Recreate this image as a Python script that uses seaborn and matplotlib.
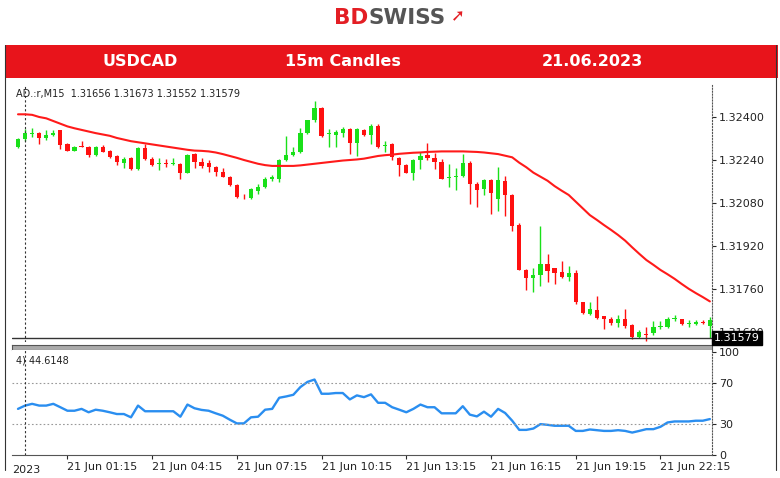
import numpy as np
import pandas as pd
import matplotlib
matplotlib.use("Agg")
import matplotlib.pyplot as plt
import seaborn as sns

opens = [1.32288,1.32317,1.32337,1.32342,1.32320,1.32332,1.32350,1.32300,1.32275,1.32292,
         1.32290,1.32259,1.32290,1.32275,1.32255,1.32230,1.32247,1.32206,1.32284,1.32243,
         1.32224,1.32227,1.32225,1.32225,1.32193,1.32262,1.32233,1.32228,1.32213,1.32197,
         1.32178,1.32148,1.32104,1.32098,1.32126,1.32138,1.32168,1.32168,1.32240,1.32259,
         1.32268,1.32340,1.32387,1.32433,1.32337,1.32333,1.32340,1.32354,1.32305,1.32352,
         1.32333,1.32367,1.32291,1.32300,1.32247,1.32222,1.32193,1.32240,1.32259,1.32247,
         1.32234,1.32172,1.32176,1.32179,1.32230,1.32151,1.32131,1.32166,1.32095,1.32163,
         1.32110,1.31999,1.31831,1.31800,1.31813,1.31853,1.31837,1.31825,1.31806,1.31821,
         1.31710,1.31666,1.31682,1.31658,1.31649,1.31633,1.31648,1.31627,1.31583,1.31592,
         1.31595,1.31617,1.31620,1.31649,1.31648,1.31631,1.31629,1.31639,1.31624]
closes = [1.32317,1.32342,1.32342,1.32320,1.32332,1.32342,1.32296,1.32275,1.32290,1.32290,
          1.32258,1.32290,1.32271,1.32253,1.32234,1.32243,1.32206,1.32284,1.32243,1.32222,
          1.32227,1.32224,1.32228,1.32193,1.32259,1.32233,1.32218,1.32213,1.32197,1.32178,
          1.32146,1.32101,1.32101,1.32131,1.32138,1.32168,1.32176,1.32240,1.32259,1.32268,
          1.32340,1.32387,1.32433,1.32330,1.32340,1.32346,1.32354,1.32305,1.32354,1.32333,
          1.32367,1.32290,1.32294,1.32253,1.32222,1.32193,1.32240,1.32255,1.32247,1.32234,
          1.32170,1.32176,1.32181,1.32230,1.32151,1.32129,1.32166,1.32116,1.32166,1.32108,
          1.31993,1.31831,1.31800,1.31813,1.31853,1.31828,1.31821,1.31806,1.31818,1.31710,
          1.31670,1.31685,1.31654,1.31648,1.31633,1.31648,1.31623,1.31583,1.31602,1.31588,
          1.31620,1.31622,1.31648,1.31651,1.31630,1.31634,1.31639,1.31633,1.31643]
highs = [1.32320,1.32355,1.32360,1.32345,1.32350,1.32350,1.32352,1.32302,1.32292,1.32310,
         1.32292,1.32292,1.32294,1.32277,1.32258,1.32252,1.32250,1.32290,1.32300,1.32250,
         1.32248,1.32245,1.32248,1.32228,1.32262,1.32265,1.32248,1.32240,1.32216,1.32210,
         1.32180,1.32152,1.32112,1.32135,1.32150,1.32175,1.32185,1.32245,1.32330,1.32290,
         1.32360,1.32390,1.32461,1.32436,1.32355,1.32350,1.32362,1.32358,1.32358,1.32355,
         1.32375,1.32375,1.32310,1.32302,1.32250,1.32225,1.32245,1.32270,1.32305,1.32265,
         1.32245,1.32224,1.32210,1.32262,1.32235,1.32160,1.32170,1.32170,1.32213,1.32180,
         1.32112,1.32005,1.31835,1.31840,1.31993,1.31890,1.31840,1.31865,1.31845,1.31830,
         1.31712,1.31712,1.31735,1.31660,1.31655,1.31665,1.31685,1.31630,1.31608,1.31620,
         1.31640,1.31640,1.31655,1.31665,1.31650,1.31645,1.31645,1.31645,1.31655]
lows = [1.32285,1.32312,1.32325,1.32300,1.32315,1.32328,1.32280,1.32272,1.32272,1.32288,
        1.32250,1.32255,1.32268,1.32248,1.32222,1.32212,1.32204,1.32204,1.32240,1.32218,
        1.32204,1.32215,1.32220,1.32170,1.32190,1.32212,1.32212,1.32195,1.32180,1.32175,
        1.32142,1.32098,1.32095,1.32095,1.32112,1.32135,1.32162,1.32160,1.32235,1.32255,
        1.32265,1.32335,1.32380,1.32326,1.32290,1.32290,1.32325,1.32262,1.32255,1.32330,
        1.32300,1.32285,1.32270,1.32240,1.32180,1.32190,1.32165,1.32205,1.32240,1.32205,
        1.32168,1.32140,1.32130,1.32175,1.32075,1.32065,1.32110,1.32040,1.32050,1.32030,
        1.31975,1.31830,1.31755,1.31750,1.31770,1.31785,1.31780,1.31800,1.31790,1.31705,
        1.31668,1.31663,1.31650,1.31610,1.31625,1.31620,1.31615,1.31575,1.31578,1.31565,
        1.31590,1.31612,1.31615,1.31640,1.31628,1.31620,1.31625,1.31630,1.31579]
ma = [1.32410,1.32410,1.32408,1.32400,1.32395,1.32385,1.32375,1.32365,1.32358,1.32352,
      1.32346,1.32340,1.32335,1.32330,1.32322,1.32316,1.32310,1.32306,1.32302,1.32298,
      1.32294,1.32290,1.32286,1.32282,1.32278,1.32275,1.32274,1.32272,1.32268,1.32262,
      1.32255,1.32248,1.32240,1.32233,1.32226,1.32221,1.32218,1.32218,1.32218,1.32218,
      1.32220,1.32223,1.32226,1.32229,1.32232,1.32235,1.32238,1.32240,1.32242,1.32245,
      1.32250,1.32255,1.32258,1.32260,1.32263,1.32265,1.32267,1.32268,1.32270,1.32271,
      1.32272,1.32272,1.32272,1.32272,1.32271,1.32270,1.32268,1.32265,1.32262,1.32256,
      1.32250,1.32230,1.32213,1.32193,1.32178,1.32163,1.32143,1.32126,1.32110,1.32085,
      1.32060,1.32035,1.32017,1.31998,1.31980,1.31961,1.31940,1.31915,1.31891,1.31868,
      1.31850,1.31831,1.31815,1.31798,1.31779,1.31761,1.31745,1.31730,1.31714]
rsi = [44.8,48.0,49.7,48.0,48.0,49.7,46.4,43.0,43.0,44.8,
       41.5,44.0,43.0,41.5,39.8,39.8,36.6,48.0,42.5,42.5,
       42.5,42.5,42.5,37.2,49.0,45.4,43.8,43.0,40.5,38.2,
       34.3,30.7,30.7,36.6,37.2,44.0,44.8,55.6,56.9,58.5,
       66.0,71.0,73.3,59.5,59.5,60.2,60.2,54.0,57.9,56.2,
       58.9,50.7,50.7,46.4,44.0,41.5,44.8,49.0,46.4,46.4,
       40.5,40.5,40.5,47.4,39.2,37.5,42.1,37.2,44.8,40.8,
       33.3,24.4,24.4,25.7,30.0,29.3,28.4,28.4,28.4,23.4,
       23.4,24.8,24.1,23.4,23.4,24.1,23.4,21.8,23.4,25.1,
       25.1,27.4,31.6,32.6,32.6,32.6,33.3,33.3,34.9]
price_ticks = [1.32400,1.32240,1.32080,1.31920,1.31760,1.31600]
time_labels = ["21 Jun 01:15","21 Jun 04:15","21 Jun 07:15","21 Jun 10:15",
               "21 Jun 13:15","21 Jun 16:15","21 Jun 19:15","21 Jun 22:15"]
time_label_idx = [7,19,31,43,55,67,79,91]

df = pd.DataFrame({"i": np.arange(len(opens)), "o": opens, "c": closes,
                   "h": highs, "l": lows, "ma": ma, "rsi": rsi})

sns.set_style("white")
plt.rcParams['font.family'] = ['DejaVu Sans']
fig = plt.figure(figsize=(7.8, 4.78), dpi=100)
W, H = 780, 478
def fa(l, t, r, b):
    return [l/W, 1-b/H, (r-l)/W, (b-t)/H]

# header
fig.text(0.428, 1-18/H, "BD", color="#e31e24", fontsize=15.5, fontweight="bold", ha="left", va="center")
fig.text(0.473, 1-18/H, "SWISS", color="#555555", fontsize=15.5, fontweight="bold", ha="left", va="center")
fig.text(0.578, 1-16/H, "➚", color="#e31e24", fontsize=12, ha="left", va="center")
bar = fig.add_axes(fa(5, 45, 778, 78))
bar.set_facecolor("#e8141b"); bar.set_xticks([]); bar.set_yticks([])
for s in bar.spines.values(): s.set_visible(False)
for x, t in [(140, "USDCAD"), (343, "15m Candles"), (592, "21.06.2023")]:
    bar.text((x - 5)/773, 0.5, t, transform=bar.transAxes, color="white",
             fontsize=11.5, fontweight="bold", ha="center", va="center")

XL = (-0.85, 98.3)
ax = fig.add_axes(fa(12, 85, 712, 342))
green, red = "#19e019", "#ff1010"
up = df[df.c >= df.o]; dn = df[df.c < df.o]
for d, col in [(up, green), (dn, red)]:
    ax.vlines(d.i, d.l, d.h, color=col, lw=1, zorder=2)
    ax.bar(d.i, (d.c - d.o).abs().clip(lower=0.000025), bottom=np.minimum(d.o, d.c),
           width=0.6, color=col, zorder=3, linewidth=0)
sns.lineplot(data=df, x="i", y="ma", ax=ax, color="#ff1a1a", lw=1.5, zorder=4)
ax.set_xlim(*XL); ax.set_ylim(1.31563, 1.32519)
ax.axhline(1.31579, color="#333333", lw=1, zorder=5)
ax.yaxis.tick_right()
ax.set_yticks(price_ticks)
ax.set_yticklabels([f"{v:.5f}" for v in price_ticks], fontsize=8, color="#222222")
ax.tick_params(axis="y", length=3, pad=2, right=True)
ax.set_xticks([]); ax.set_xlabel(""); ax.set_ylabel("")
for s in ["top", "left", "bottom"]: ax.spines[s].set_visible(False)
ax.spines["right"].set_linestyle(":"); ax.spines["right"].set_color("#555")
ax.axvline(1, color="#333", ls=(0, (2, 2)), lw=0.8)
ax.text(0.005, 0.965, "AD.:r,M15  1.31656 1.31673 1.31552 1.31579", transform=ax.transAxes,
        fontsize=7, color="#222", va="center")
fig.text(714/W, 1-338/H, "1.31579", fontsize=8, color="white", va="center", ha="left",
         bbox=dict(boxstyle="square,pad=0.15", fc="black", ec="black"), zorder=10)

sep = fig.add_axes(fa(12, 345, 712, 350))
sep.set_facecolor("#aaaaaa"); sep.set_xticks([]); sep.set_yticks([])
for s in sep.spines.values(): s.set_color("#555")

ax2 = fig.add_axes(fa(12, 350, 712, 455))
sns.lineplot(data=df, x="i", y="rsi", ax=ax2, color="#2a8ef0", lw=1.7)
ax2.set_xlim(*XL); ax2.set_ylim(0, 102)
for v in [30, 70]:
    ax2.axhline(v, color="#999", ls=(0, (1.5, 2)), lw=0.8)
ax2.axvline(1, color="#333", ls=(0, (2, 2)), lw=0.8)
ax2.yaxis.tick_right()
ax2.set_yticks([0, 30, 70, 100]); ax2.set_yticklabels(["0", "30", "70", "100"], fontsize=8, color="#222")
ax2.tick_params(axis="y", length=3, pad=2)
ax2.set_xticks(time_label_idx)
ax2.set_xticklabels(time_labels, fontsize=8, color="#222", ha="left")
ax2.tick_params(axis="x", length=3, pad=2, bottom=True)
ax2.text(-0.85, -0.17, "2023", transform=ax2.get_xaxis_transform(), fontsize=8, color="#222")
ax2.set_xlabel(""); ax2.set_ylabel("")
ax2.text(0.005, 0.9, "4) 44.6148", transform=ax2.transAxes, fontsize=7, color="#222", va="center")
for s in ["top", "left"]: ax2.spines[s].set_visible(False)
ax2.spines["right"].set_linestyle(":"); ax2.spines["right"].set_color("#555")
ax2.spines["bottom"].set_color("#555")

fig.add_artist(plt.Line2D([5/W, 5/W], [1-45/H, 1-470/H], color="#333", lw=0.8))
fig.add_artist(plt.Line2D([776/W, 776/W], [1-45/H, 1-470/H], color="#333", lw=0.8))

fig.savefig("out.png", dpi=100, facecolor="white")
